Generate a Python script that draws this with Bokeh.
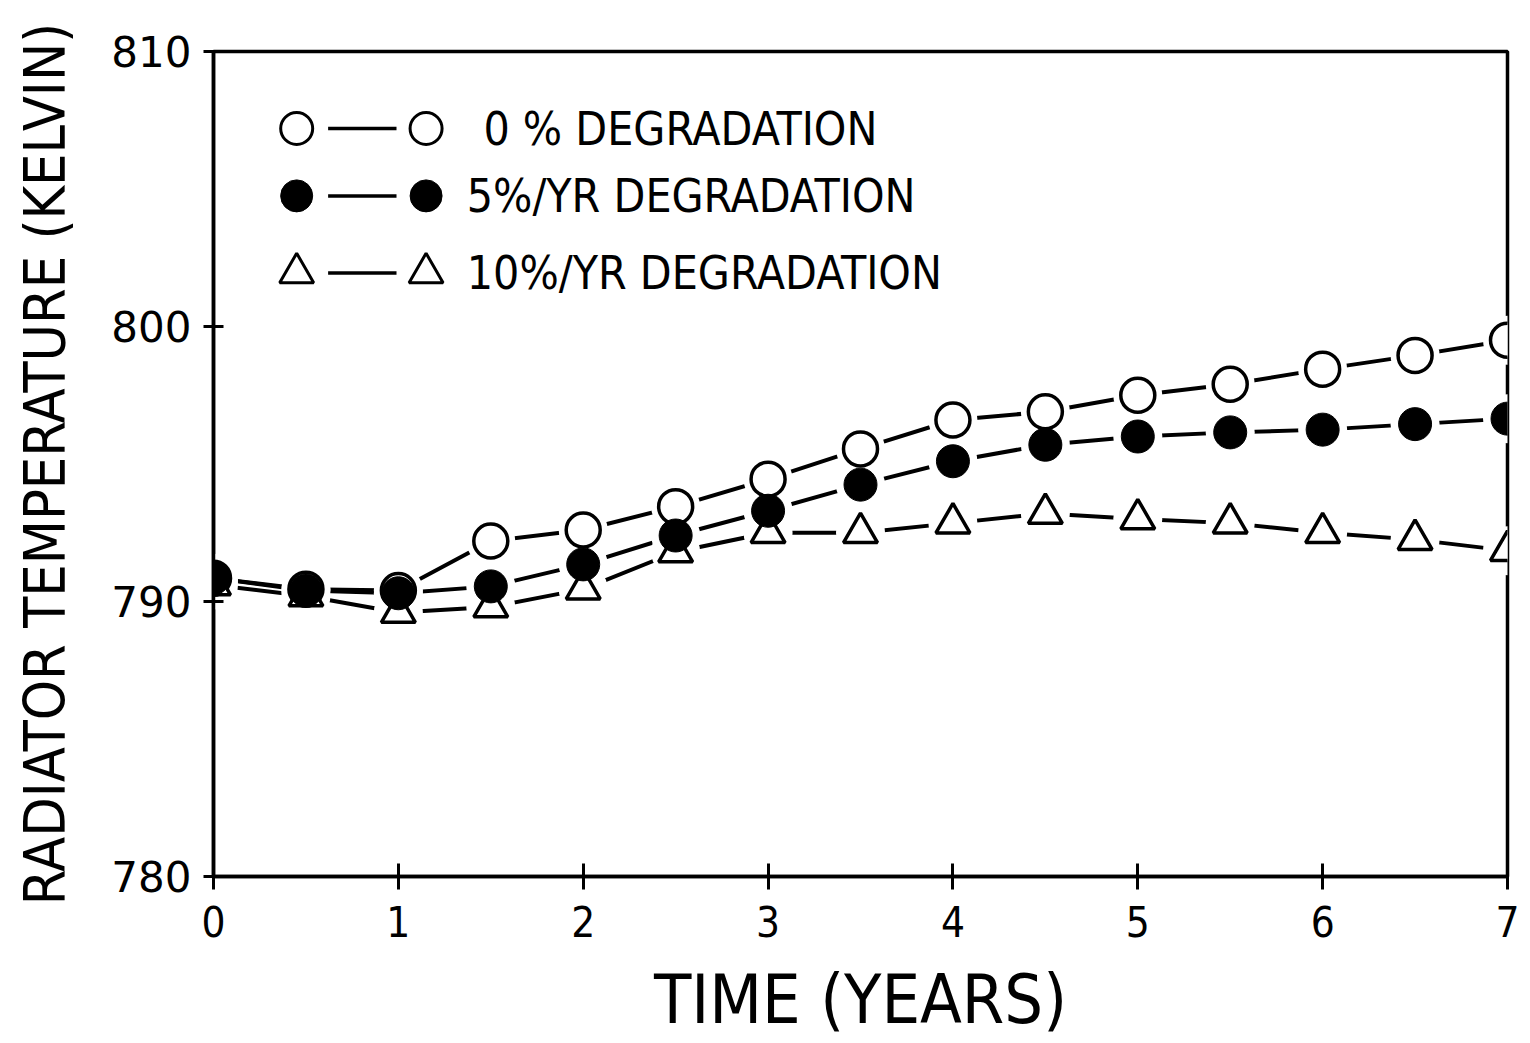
from bokeh.plotting import figure
from bokeh.models import Range1d, FixedTicker, Label
from bokeh.embed import file_html
from bokeh.resources import INLINE

# Radiator temperature (K) versus mission time for three degradation rates
years = [0, 0.5, 1, 1.5, 2, 2.5, 3, 3.5, 4, 4.5, 5, 5.5, 6, 6.5, 7]
temp_0pct = [790.85, 790.45, 790.4, 792.2, 792.6, 793.45, 794.45, 795.55,
             796.6, 796.9, 797.5, 797.9, 798.45, 798.95, 799.5]
temp_5pct = [790.85, 790.4, 790.3, 790.55, 791.35, 792.4, 793.3, 794.25,
             795.1, 795.7, 796.0, 796.15, 796.25, 796.45, 796.65]
temp_10pct = [790.6, 790.2, 789.6, 789.8, 790.45, 791.8, 792.5, 792.5,
              792.85, 793.2, 793.0, 792.85, 792.5, 792.25, 791.85]

x_ticks = [0, 1, 2, 3, 4, 5, 6, 7]
y_ticks = [780, 790, 800, 810]
legend_labels = ["0 % DEGRADATION", "5%/YR DEGRADATION", "10%/YR DEGRADATION"]

NARROW = "DejaVu Sans Condensed, Roboto Condensed, Roboto"

p = figure(width=1530, height=1043,
           x_range=Range1d(0, 7), y_range=Range1d(780, 810),
           output_backend="svg", toolbar_location=None,
           min_border_left=213, min_border_right=23,
           min_border_top=51, min_border_bottom=167,
           background_fill_color="white", border_fill_color="white")

p.xgrid.visible = False
p.ygrid.visible = False
p.outline_line_color = "black"
p.outline_line_width = 3.5
p.outline_line_alpha = 1.0

for ax in (p.xaxis[0], p.yaxis[0]):
    ax.axis_line_width = 3.5
    ax.major_tick_line_width = 3
    ax.minor_tick_line_color = None
    ax.axis_label_text_font_style = "normal"
    ax.axis_label_text_color = "black"
    ax.major_label_text_color = "black"

p.xaxis.ticker = FixedTicker(ticks=x_ticks)
p.xaxis.major_tick_in = 13
p.xaxis.major_tick_out = 13
p.xaxis.major_label_text_font = NARROW
p.xaxis.major_label_text_font_size = "42px"
p.xaxis.major_label_standoff = 16
p.xaxis.axis_label = "TIME (YEARS)"
p.xaxis.axis_label_text_font = NARROW
p.xaxis.axis_label_text_font_size = "68px"
p.xaxis.axis_label_standoff = 20

p.yaxis.ticker = FixedTicker(ticks=y_ticks)
p.yaxis.major_tick_in = 10
p.yaxis.major_tick_out = 10
p.yaxis.major_label_text_font = "DejaVu Sans"
p.yaxis.major_label_text_font_size = "42px"
p.yaxis.major_label_standoff = 12
p.yaxis.axis_label = "RADIATOR TEMPERATURE (KELVIN)"
p.yaxis.axis_label_text_font = NARROW
p.yaxis.axis_label_text_font_size = "57px"
p.yaxis.axis_label_standoff = 30

series = [temp_0pct, temp_10pct, temp_5pct]

# connecting lines
for vals in series:
    p.line(years, vals, line_color="black", line_width=4)

# white halos leave a small gap between each line and its markers
for vals in series:
    p.scatter(years, vals, marker="circle", size=49,
              fill_color="white", line_color=None)

# markers: open circles, open triangles, then solid circles on top
p.scatter(years, temp_0pct, marker="circle", size=34,
          fill_color="white", line_color="black", line_width=3.5)
p.scatter(years, temp_10pct, marker="triangle", size=34,
          fill_color="white", line_color="black", line_width=3.5)
p.scatter(years, temp_5pct, marker="circle", size=33,
          fill_color="black", line_color="black", line_width=1)

# key in the upper-left corner (positions in data units)
LEG_MARK_X = [0.45, 1.15]
LEG_LINE_X = (0.62, 0.99)
LEG_TEXT_X = [1.46, 1.37, 1.37]
LEG_ROW_Y = [807.2, 804.75, 801.95]
leg_styles = [
    dict(marker="circle", size=32, fill_color="white", line_color="black", line_width=3),
    dict(marker="circle", size=32, fill_color="black", line_color="black", line_width=1),
    dict(marker="triangle", size=34, fill_color="white", line_color="black", line_width=3),
]
for row_y, style, label, tx in zip(LEG_ROW_Y, leg_styles, legend_labels, LEG_TEXT_X):
    p.segment(x0=[LEG_LINE_X[0]], y0=[row_y], x1=[LEG_LINE_X[1]], y1=[row_y],
              line_color="black", line_width=3.5)
    p.scatter(LEG_MARK_X, [row_y, row_y], **style)
    p.add_layout(Label(x=tx, y=row_y, text=label, text_baseline="middle",
                       text_align="left", text_font=NARROW,
                       text_font_size="46px", text_color="black"))

open("out.html", "w").write(file_html(p, INLINE))
